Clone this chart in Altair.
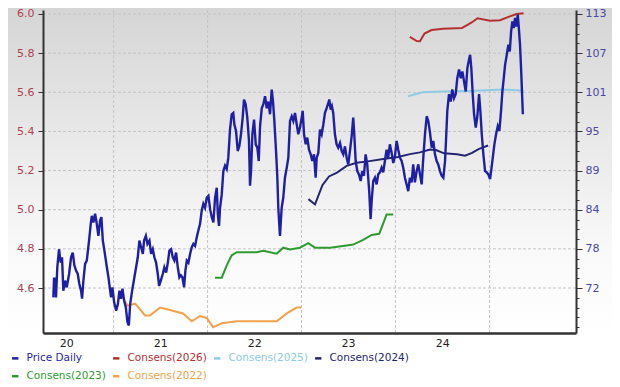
import altair as alt
import pandas as pd
import numpy as np

# ---------------- data (time as decimal years) ----------------
price_t = [2020.360, 2020.367, 2020.385, 2020.388, 2020.402, 2020.420, 2020.438, 2020.452, 2020.466, 2020.484,
           2020.502, 2020.527, 2020.548, 2020.566, 2020.583, 2020.601, 2020.619, 2020.636, 2020.654, 2020.665,
           2020.679, 2020.697, 2020.715, 2020.739, 2020.757, 2020.768, 2020.785, 2020.803, 2020.821, 2020.838,
           2020.856, 2020.870, 2020.885, 2020.902, 2020.928, 2020.945, 2020.963, 2020.973, 2020.987, 2021.005,
           2021.027, 2021.045, 2021.062, 2021.077, 2021.094, 2021.112, 2021.130, 2021.147, 2021.162, 2021.176,
           2021.197, 2021.221, 2021.239, 2021.257, 2021.274, 2021.293, 2021.311, 2021.324, 2021.343, 2021.360,
           2021.381, 2021.399, 2021.417, 2021.434, 2021.452, 2021.470, 2021.484, 2021.502, 2021.523, 2021.540,
           2021.559, 2021.577, 2021.594, 2021.612, 2021.630, 2021.647, 2021.665, 2021.683, 2021.700, 2021.715,
           2021.732, 2021.750, 2021.764, 2021.779, 2021.796, 2021.814, 2021.832, 2021.849, 2021.867, 2021.885,
           2021.902, 2021.920, 2021.938, 2021.955, 2021.973, 2021.991, 2022.009, 2022.027, 2022.045, 2022.062,
           2022.080, 2022.098, 2022.109, 2022.122, 2022.133, 2022.151, 2022.168, 2022.186, 2022.204, 2022.221,
           2022.239, 2022.257, 2022.274, 2022.285, 2022.303, 2022.321, 2022.338, 2022.356, 2022.374, 2022.388,
           2022.406, 2022.423, 2022.441, 2022.452, 2022.463, 2022.477, 2022.495, 2022.513, 2022.530, 2022.545,
           2022.559, 2022.577, 2022.594, 2022.612, 2022.630, 2022.647, 2022.665, 2022.683, 2022.697, 2022.711,
           2022.729, 2022.743, 2022.753, 2022.771, 2022.789, 2022.806, 2022.824, 2022.843, 2022.860, 2022.878,
           2022.896, 2022.913, 2022.931, 2022.949, 2022.966, 2022.984, 2023.002, 2023.013, 2023.027, 2023.045,
           2023.062, 2023.080, 2023.098, 2023.115, 2023.133, 2023.151, 2023.162, 2023.179, 2023.197, 2023.215,
           2023.233, 2023.250, 2023.268, 2023.286, 2023.296, 2023.311, 2023.324, 2023.338, 2023.356, 2023.374,
           2023.391, 2023.410, 2023.428, 2023.445, 2023.463, 2023.481, 2023.498, 2023.516, 2023.534, 2023.551,
           2023.562, 2023.577, 2023.594, 2023.612, 2023.630, 2023.647, 2023.665, 2023.683, 2023.700, 2023.721,
           2023.736, 2023.747, 2023.764, 2023.782, 2023.800, 2023.817, 2023.835, 2023.853, 2023.870, 2023.888,
           2023.906, 2023.923, 2023.941, 2023.960, 2023.977, 2023.995, 2024.013, 2024.030, 2024.048, 2024.066,
           2024.083, 2024.101, 2024.119, 2024.136, 2024.154, 2024.172, 2024.189, 2024.207, 2024.226, 2024.243,
           2024.261, 2024.279, 2024.296, 2024.314, 2024.332, 2024.349, 2024.367, 2024.385, 2024.402, 2024.420,
           2024.438, 2024.455, 2024.473, 2024.491, 2024.509, 2024.527, 2024.537, 2024.551, 2024.569, 2024.587,
           2024.604, 2024.622, 2024.640, 2024.657, 2024.676, 2024.694, 2024.711, 2024.729, 2024.747, 2024.764,
           2024.782, 2024.793, 2024.806, 2024.821, 2024.835, 2024.853, 2024.870, 2024.888, 2024.902, 2024.917,
           2024.934, 2024.952, 2024.970, 2024.987, 2025.005, 2025.019, 2025.034, 2025.051, 2025.069, 2025.087,
           2025.104, 2025.122, 2025.136, 2025.151, 2025.165, 2025.183, 2025.200, 2025.215, 2025.229, 2025.243,
           2025.257, 2025.271, 2025.285, 2025.300, 2025.314, 2025.324, 2025.338, 2025.354]
price_v = [70.6, 73.4, 73.4, 70.6, 75.1, 77.8, 75.8, 76.6, 71.6, 73.1,
           72.1, 74.1, 76.6, 77.3, 75.4, 74.6, 74.1, 72.6, 71.6, 70.4,
           73.1, 75.6, 76.1, 79.1, 81.6, 82.8, 81.8, 83.1, 81.6, 79.8,
           82.1, 82.6, 79.1, 77.6, 75.1, 73.6, 71.6, 70.6, 72.1, 69.9,
           68.6, 69.6, 71.6, 70.4, 71.9, 70.1, 69.1, 66.9, 66.4, 69.6,
           71.6, 73.6, 75.1, 76.6, 79.1, 78.1, 77.1, 79.1, 79.8, 78.6,
           79.1, 77.1, 77.8, 76.6, 75.8, 74.1, 72.3, 73.1, 74.1, 75.1,
           74.3, 75.8, 77.6, 77.8, 76.6, 76.1, 77.3, 75.1, 73.6, 73.9,
           73.6, 72.1, 74.6, 76.1, 75.8, 77.1, 78.1, 78.6, 78.3, 79.6,
           80.6, 81.6, 83.6, 84.6, 84.0, 85.5, 85.8, 83.8, 82.6, 81.8,
           85.5, 87.0, 83.1, 81.3, 84.0, 86.0, 89.5, 90.3, 89.8, 91.5,
           95.7, 98.0, 98.2, 96.5, 95.5, 92.5, 93.2, 95.0, 97.5, 100.2,
           99.5, 97.5, 94.0, 87.3, 89.5, 95.0, 97.2, 93.5, 93.0, 91.0,
           96.2, 98.9, 99.5, 100.7, 98.9, 99.9, 98.0, 101.7, 99.9, 97.0,
           92.5, 88.5, 84.0, 79.8, 84.0, 85.5, 88.5, 90.0, 91.5, 97.0,
           97.7, 97.0, 98.2, 96.5, 95.0, 96.0, 97.5, 98.5, 95.0, 93.5,
           94.5, 92.7, 92.0, 91.0, 92.0, 88.5, 91.5, 92.2, 95.7, 95.0,
           96.5, 98.2, 98.9, 99.7, 100.2, 98.7, 99.2, 98.2, 95.0, 93.5,
           93.0, 93.7, 92.5, 92.0, 93.2, 91.5, 90.5, 92.5, 94.7, 97.5,
           95.0, 91.0, 89.5, 89.0, 88.0, 89.5, 88.8, 92.0, 90.5, 86.5,
           82.3, 85.0, 88.0, 88.5, 87.5, 89.0, 89.3, 90.0, 89.3, 91.0,
           92.7, 91.5, 93.5, 92.2, 90.7, 91.7, 94.0, 92.7, 91.5, 91.0,
           90.0, 88.5, 87.5, 86.5, 88.5, 87.8, 90.5, 87.8, 89.5, 90.5,
           89.0, 87.5, 91.5, 95.0, 97.7, 97.0, 95.3, 93.0, 94.0, 92.0,
           91.0, 90.5, 89.5, 88.8, 88.5, 91.0, 94.0, 98.5, 101.0, 99.9,
           101.7, 100.4, 101.0, 103.4, 104.7, 103.4, 104.4, 102.9, 101.4, 104.9,
           106.2, 106.9, 104.9, 101.0, 98.0, 96.0, 97.7, 101.0, 98.5, 95.0,
           92.0, 89.5, 89.3, 89.0, 88.3, 89.8, 91.5, 93.5, 95.0, 96.2,
           95.5, 98.5, 101.4, 103.4, 105.4, 106.9, 108.4, 107.4, 110.4, 111.9,
           110.9, 112.4, 111.1, 112.9, 110.4, 108.4, 103.9, 98.0]

c2026_t = [2024.154, 2024.226, 2024.261, 2024.309, 2024.383, 2024.505, 2024.707, 2024.761, 2024.814, 2024.872,
           2025.005, 2025.112, 2025.202, 2025.287, 2025.362]
c2026_v = [5.883, 5.862, 5.861, 5.900, 5.918, 5.925, 5.929, 5.943, 5.958, 5.978,
           5.966, 5.968, 5.985, 6.000, 6.004]

c2025_t = [2024.133, 2024.207, 2024.293, 2024.505, 2024.761, 2024.973, 2025.144, 2025.293, 2025.362]
c2025_v = [5.579, 5.590, 5.600, 5.604, 5.607, 5.610, 5.614, 5.610, 5.607]

c2024_t = [2023.074, 2023.144, 2023.223, 2023.293, 2023.378, 2023.481, 2023.587, 2023.707, 2023.888, 2024.027,
           2024.154, 2024.261, 2024.367, 2024.431, 2024.516, 2024.654, 2024.739, 2024.814, 2024.883, 2024.984]
c2024_v = [5.054, 5.027, 5.125, 5.170, 5.190, 5.224, 5.240, 5.247, 5.260, 5.269,
           5.284, 5.293, 5.308, 5.305, 5.288, 5.283, 5.276, 5.290, 5.310, 5.328]

c2023_t = [2022.080, 2022.151, 2022.204, 2022.257, 2022.311, 2022.523, 2022.594, 2022.736, 2022.806, 2022.878,
           2022.984, 2023.072, 2023.144, 2023.303, 2023.481, 2023.551, 2023.657, 2023.747, 2023.828, 2023.906,
           2023.977]
c2023_v = [4.653, 4.653, 4.716, 4.767, 4.783, 4.783, 4.790, 4.775, 4.806, 4.797,
           4.806, 4.829, 4.806, 4.806, 4.817, 4.822, 4.846, 4.871, 4.877, 4.975,
           4.975]

c2022_t = [2021.080, 2021.147, 2021.229, 2021.335, 2021.388, 2021.495, 2021.580, 2021.739, 2021.832, 2021.920,
           2021.991, 2022.059, 2022.151, 2022.311, 2022.736, 2022.843, 2022.949, 2022.995]
c2022_v = [4.565, 4.510, 4.520, 4.460, 4.460, 4.500, 4.490, 4.470, 4.430, 4.457,
           4.447, 4.400, 4.420, 4.430, 4.430, 4.470, 4.500, 4.500]

series_names = ["Price Daily", "Consens(2026)", "Consens(2025)", "Consens(2024)", "Consens(2023)", "Consens(2022)"]
series_colors = ["#1f1fa3", "#b3302f", "#8ecbe4", "#25256f", "#2f9a2f", "#f2a24a"]

left_ticks = [4.6, 4.8, 5.0, 5.2, 5.4, 5.6, 5.8, 6.0]
right_tick_labels = ["72", "78", "84", "89", "95", "101", "107", "113"]
right_low, right_high = 72.0, 113.0
year_labels = [2020, 2021, 2022, 2023, 2024]
year_gridlines = [2021, 2022, 2023, 2024, 2025]
x_range = [2020.25, 2025.92]
left_domain = [4.3701, 6.0204]


def dec_year(t):
    y = int(np.floor(t))
    a = pd.Timestamp(year=y, month=1, day=1)
    b = pd.Timestamp(year=y + 1, month=1, day=1)
    return a + (b - a) * (t - y)


def to_dt(ts):
    return alt.DateTime(year=ts.year, month=ts.month, date=ts.day, hours=ts.hour)


# ---------------- frames ----------------
cons_frames = []
for name, tt, vv in [("Consens(2026)", c2026_t, c2026_v), ("Consens(2025)", c2025_t, c2025_v),
                     ("Consens(2024)", c2024_t, c2024_v), ("Consens(2023)", c2023_t, c2023_v),
                     ("Consens(2022)", c2022_t, c2022_v)]:
    cons_frames.append(pd.DataFrame({"date": [dec_year(t) for t in tt], "v": vv, "series": name}))
df_cons = pd.concat(cons_frames, ignore_index=True)
df_price = pd.DataFrame({"date": [dec_year(t) for t in price_t], "p": price_v, "series": "Price Daily"})
df_vgrid = pd.DataFrame({"date": [pd.Timestamp(year=y, month=1, day=1) for y in year_gridlines]})
df_hgrid = pd.DataFrame({"v": left_ticks})

# right scale linked to the left one
ratio = (right_high - right_low) / (left_ticks[-1] - left_ticks[0])
right_domain = [right_low + (d - left_ticks[0]) * ratio for d in left_domain]
major_step = (right_high - right_low) / (len(right_tick_labels) - 1)
minor_step = major_step / 4
right_values = [right_low + k * minor_step for k in range(-4, 29)]
label_expr = "".join(
    f"abs(datum.value - {right_low + i * major_step:.5f}) < 0.01 ? '{lab}' : "
    for i, lab in enumerate(right_tick_labels)) + "''"
major_test = " || ".join(
    f"abs(datum.value - {right_low + i * major_step:.5f}) < 0.01" for i in range(len(right_tick_labels)))

W, H = 533, 323
FONT = "DejaVu Sans"

xscale = alt.Scale(domain=[to_dt(dec_year(x_range[0])), to_dt(dec_year(x_range[1]))])
xaxis = alt.Axis(values=[alt.DateTime(year=y, month=7, date=1) for y in year_labels], format="%y",
                 title=None, grid=False, ticks=False, labelPadding=4, labelFont=FONT, labelFontSize=11,
                 labelColor="#222222", domainColor="#333333", domainWidth=2.5, zindex=1)
lscale = alt.Scale(domain=left_domain, nice=False, zero=False)
laxis = alt.Axis(values=left_ticks, format=".1f", title=None, grid=False, tickSize=5, tickColor="#333333",
                 labelPadding=4, labelFont=FONT, labelFontSize=11, labelColor="#b0424f",
                 domainColor="#333333", domainWidth=2, zindex=1)
rscale = alt.Scale(domain=right_domain, nice=False, zero=False)
raxis = alt.Axis(orient="right", values=right_values, labelExpr=label_expr, title=None, grid=False,
                 tickSize={"condition": {"test": major_test, "value": 6}, "value": 3},
                 tickColor="#333333", labelPadding=3, labelFont=FONT, labelFontSize=11,
                 labelColor="#4a4aa0", domainColor="#333333", domainWidth=2, zindex=1)

cscale = alt.Scale(domain=series_names, range=series_colors)
legend = alt.Legend(title=None, orient="none", legendX=-33, legendY=343, direction="horizontal", columns=4,
                    symbolType="M-1,0L1,0", symbolSize=40, symbolStrokeWidth=2.5, labelFont=FONT,
                    labelFontSize=10.5, labelOffset=6, columnPadding=2, rowPadding=7,
                    labelColor={"expr": "scale('color', datum.value)"})

bg = alt.Chart(pd.DataFrame({"k": [0]})).mark_rect(
    fill=alt.Gradient(gradient="linear", x1=0, x2=0, y1=0, y2=1,
                      stops=[alt.GradientStop(color="#d4d4d4", offset=0),
                             alt.GradientStop(color="#e8e8e8", offset=0.4),
                             alt.GradientStop(color="#f9f9f9", offset=0.75),
                             alt.GradientStop(color="#ffffff", offset=1)])
).encode(x=alt.value(-43), x2=alt.value(W + 44), y=alt.value(-10), y2=alt.value(H))

vgrid = alt.Chart(df_vgrid).mark_rule(color="#c4c4c4", strokeDash=[3, 2], strokeWidth=1).encode(
    x=alt.X("date:T", scale=xscale, axis=xaxis))
hgrid = alt.Chart(df_hgrid).mark_rule(color="#c4c4c4", strokeDash=[3, 2], strokeWidth=1).encode(
    y=alt.Y("v:Q", scale=lscale, axis=laxis))
cons = alt.Chart(df_cons).mark_line(strokeWidth=2).encode(
    x=alt.X("date:T", scale=xscale, axis=xaxis),
    y=alt.Y("v:Q", scale=lscale, axis=laxis),
    color=alt.Color("series:N", scale=cscale, legend=legend))
price = alt.Chart(df_price).mark_line(strokeWidth=2.4).encode(
    x=alt.X("date:T", scale=xscale, axis=xaxis),
    y=alt.Y("p:Q", scale=rscale, axis=raxis),
    color=alt.Color("series:N", scale=cscale, legend=legend))

left = alt.layer(hgrid, cons)
chart = alt.layer(bg, vgrid, left, price).resolve_scale(y="independent").properties(
    width=W, height=H,
    padding={"left": 35, "top": 2, "right": 36, "bottom": 54},
    autosize=alt.AutoSizeParams(type="none"),
).configure_view(stroke=None).configure(font=FONT)

chart.save("out.html", embed_options={"renderer": "svg", "actions": False})
